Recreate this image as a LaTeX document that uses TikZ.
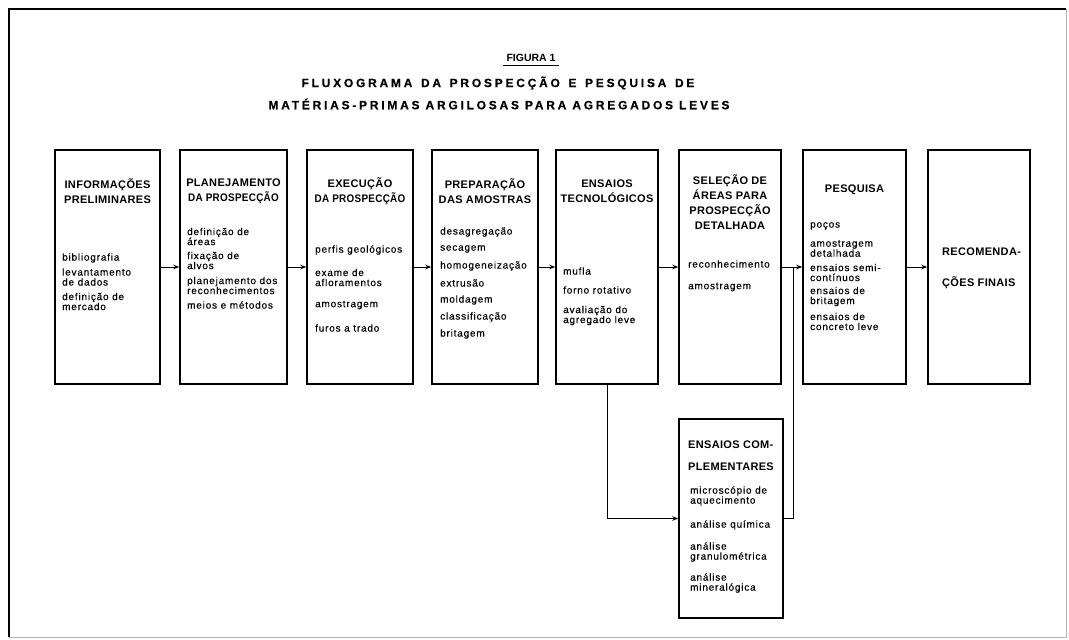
\documentclass[tikz,border=0pt]{standalone}
\usepackage{fontspec}
\setmainfont{Liberation Sans}
\newfontfamily\titlefont{Liberation Sans}[LetterSpace=23,FakeBold=0.4]
\newfontfamily\headfont{Liberation Sans}[LetterSpace=3]
\newfontfamily\itemfont{Liberation Sans}[LetterSpace=8,FakeBold=0.3]
\usetikzlibrary{arrows.meta}
\newcommand{\narrow}[1]{\scalebox{0.9}[1]{#1}}
\begin{document}
\begin{tikzpicture}[x=1pt,y=-1pt,
  stagebox/.style={draw,line width=1.5pt,inner sep=0pt,minimum height=234pt},
  head/.style={font=\headfont\bfseries\fontsize{11}{15}\selectfont,align=center,inner sep=0pt},
  item/.style={font=\itemfont\fontsize{10}{10}\selectfont,align=left,anchor=west,inner sep=0pt},
  titleline/.style={font=\titlefont\bfseries\fontsize{12}{13}\selectfont},
  flow/.style={line width=1pt,-{Stealth[length=6pt,width=4.5pt]}},
  link/.style={line width=1pt}]
\useasboundingbox (0,0) rectangle (1069,640);

% page frame
\draw[line width=1.6pt] (9,637) -- (9,9) -- (1066,9);
\draw[line width=0.6pt,black!30] (1066,9) -- (1066,637) -- (9,637);

% title
\node[font=\bfseries\fontsize{10.5}{12}\selectfont] (fig) at (531,58) {FIGURA 1};
\draw[line width=1.3pt] (fig.south west) -- (fig.south east);
\node[titleline] (t1) at (498,83) {\spaceskip=8.6pt FLUXOGRAMA DA PROSPECÇÃO E PESQUISA DE};
\node[titleline] (t2) at (499,104) {\spaceskip=6pt MATÉRIAS-PRIMAS ARGILOSAS PARA AGREGADOS LEVES};

% stages
\node[stagebox,minimum width=105pt] (b1) at (107.5,267) {};
\node[stagebox,minimum width=107pt] (b2) at (233.5,267) {};
\node[stagebox,minimum width=106pt] (b3) at (360,267) {};
\node[stagebox,minimum width=106pt] (b4) at (485,267) {};
\node[stagebox,minimum width=102pt] (b5) at (607,267) {};
\node[stagebox,minimum width=102pt] (b6) at (730,267) {};
\node[stagebox,minimum width=103pt] (b7) at (854.5,267) {};
\node[stagebox,minimum width=102pt] (b8) at (979,267) {};
\node[stagebox,minimum width=104pt,minimum height=199pt] (b9) at (731,518.5) {};

% headings
\node[head] (h1) at (107.5,191.5) {INFORMAÇÕES\\PRELIMINARES};
\node[head] (h2) at (233.5,191.5) {PLANEJAMENTO\\\narrow{DA PROSPECÇÃO}};
\node[head] (h3) at (360,191.5) {EXECUÇÃO\\\narrow{DA PROSPECÇÃO}};
\node[head] (h4) at (485,191.5) {PREPARAÇÃO\\DAS AMOSTRAS};
\node[head] (h5) at (607,191.5) {ENSAIOS\\TECNOLÓGICOS};
\node[head] (h6) at (730,202) {SELEÇÃO DE\\ÁREAS PARA\\PROSPECÇÃO\\DETALHADA};
\node[head] (h7) at (854.5,190) {PESQUISA};
\node[head,align=left,anchor=west,font=\headfont\bfseries\fontsize{11}{31}\selectfont] (h8) at (942,268) {RECOMENDA-\\ÇÕES FINAIS};
\node[head,align=left,anchor=west,font=\headfont\bfseries\fontsize{11}{22}\selectfont] (h9) at (688,456) {ENSAIOS COM-\\PLEMENTARES};

% items: informações preliminares
\node[item] (i11) at (62,258) {bibliografia};
\node[item] (i12) at (62,277) {levantamento\\de dados};
\node[item] (i13) at (62,301.5) {definição de\\mercado};
% planejamento
\node[item] (i21) at (187,236.5) {definição de\\áreas};
\node[item] (i22) at (187,260.5) {fixação de\\alvos};
\node[item] (i23) at (187,285.5) {planejamento dos\\reconhecimentos};
\node[item] (i24) at (187,305) {meios e métodos};
% execução
\node[item] (i31) at (315,250) {perfis geológicos};
\node[item] (i32) at (315,277.5) {exame de\\afloramentos};
\node[item] (i33) at (315,305) {amostragem};
\node[item] (i34) at (315,328) {furos a trado};
% preparação
\node[item] (i41) at (440,232) {desagregação};
\node[item] (i42) at (440,249) {secagem};
\node[item] (i43) at (440,266) {homogeneização};
\node[item] (i44) at (440,283) {extrusão};
\node[item] (i45) at (440,300) {moldagem};
\node[item] (i46) at (440,317) {classificação};
\node[item] (i47) at (440,334) {britagem};
% ensaios tecnológicos
\node[item] (i51) at (563,271) {mufla};
\node[item] (i52) at (563,290) {forno rotativo};
\node[item] (i53) at (563,315.5) {avaliação do\\agregado leve};
% seleção de áreas
\node[item] (i61) at (688,264) {reconhecimento};
\node[item] (i62) at (688,287) {amostragem};
% pesquisa
\node[item] (i71) at (810,226) {poços};
\node[item] (i72) at (810,248.5) {amostragem\\detalhada};
\node[item] (i73) at (810,272.5) {ensaios semi-\\contínuos};
\node[item] (i74) at (810,296.5) {ensaios de\\britagem};
\node[item] (i75) at (810,321.5) {ensaios de\\concreto leve};
% ensaios complementares
\node[item] (i91) at (690,496) {microscópio de\\aquecimento};
\node[item] (i92) at (690,525) {análise química};
\node[item] (i93) at (690,552) {análise\\granulométrica};
\node[item] (i94) at (690,583) {análise\\mineralógica};

% connectors
\coordinate (j) at (793,267);
\draw[flow] (b1) -- (b2);
\draw[flow] (b2) -- (b3);
\draw[flow] (b3) -- (b4);
\draw[flow] (b4) -- (b5);
\draw[flow] (b5) -- (b6);
\draw[flow] (b6) -- (b7);
\draw[flow] (b7) -- (b8);
\draw[flow] (b5.south) |- (b9.west);
\draw[link] (b9.east) -| (j);
\end{tikzpicture}
\end{document}
